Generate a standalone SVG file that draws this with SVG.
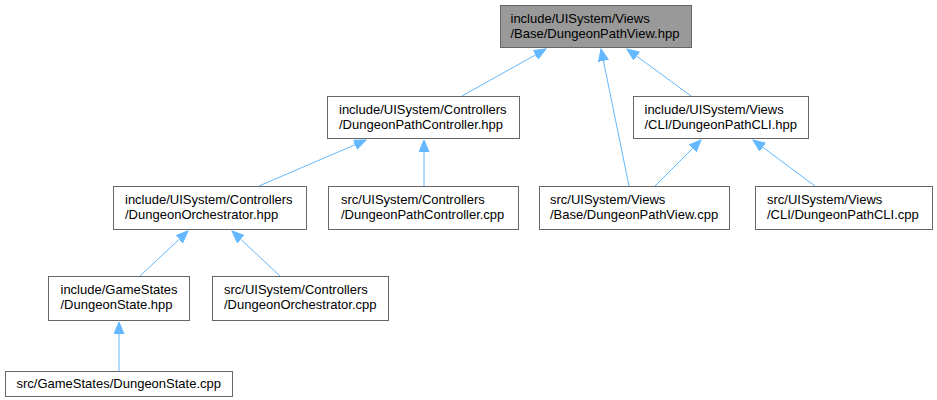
<svg xmlns="http://www.w3.org/2000/svg" width="937" height="400" viewBox="0 0 937 400">
<style>
.n rect{fill:#ffffff;stroke:#666666;stroke-width:1}
.n.cur rect{fill:#999999}
.n text{font-family:"Liberation Sans",Arial,sans-serif;font-size:13px;fill:#000000}
.e line{stroke:#63b8ff;stroke-width:1;fill:none;marker-end:url(#arr)}
</style>
<defs>
<marker id="arr" markerUnits="userSpaceOnUse" markerWidth="14" markerHeight="12" refX="12" refY="5" orient="auto">
<path d="M0,0 L12,5 L0,10 z" fill="#63b8ff" stroke="#63b8ff" stroke-width="1"/>
</marker>
</defs>
<rect width="937" height="400" fill="#ffffff"/>
<g id="edges" class="e">
<line x1="462" y1="96" x2="546" y2="49"/>
<line x1="629" y1="186" x2="601" y2="49"/>
<line x1="691" y1="96" x2="627" y2="49"/>
<line x1="259" y1="186" x2="366" y2="140"/>
<line x1="424" y1="186" x2="424" y2="140"/>
<line x1="655" y1="186" x2="701" y2="140"/>
<line x1="815" y1="186" x2="753" y2="140"/>
<line x1="140" y1="276" x2="188" y2="231"/>
<line x1="280" y1="276" x2="232" y2="231"/>
<line x1="119" y1="371" x2="119" y2="322"/>
</g>
<g id="node1" class="n cur"><rect x="500.5" y="5.5" width="191" height="42"/><text x="510.5" y="23">include/UISystem/Views</text><text x="510.5" y="38">/Base/DungeonPathView.hpp</text></g>
<g id="node2" class="n"><rect x="327.5" y="96.5" width="192" height="42"/><text x="339" y="114">include/UISystem/Controllers</text><text x="339" y="129">/DungeonPathController.hpp</text></g>
<g id="node3" class="n"><rect x="633.5" y="96.5" width="175" height="42"/><text x="644.5" y="114">include/UISystem/Views</text><text x="644.5" y="129">/CLI/DungeonPathCLI.hpp</text></g>
<g id="node4" class="n"><rect x="113.5" y="186.5" width="193" height="43"/><text x="125" y="204">include/UISystem/Controllers</text><text x="125" y="219">/DungeonOrchestrator.hpp</text></g>
<g id="node5" class="n"><rect x="328.5" y="186.5" width="190" height="43"/><text x="341" y="204">src/UISystem/Controllers</text><text x="341" y="219">/DungeonPathController.cpp</text></g>
<g id="node6" class="n"><rect x="539.5" y="186.5" width="190" height="43"/><text x="550" y="204">src/UISystem/Views</text><text x="550" y="219">/Base/DungeonPathView.cpp</text></g>
<g id="node7" class="n"><rect x="755.5" y="186.5" width="177" height="43"/><text x="767" y="204">src/UISystem/Views</text><text x="767" y="219">/CLI/DungeonPathCLI.cpp</text></g>
<g id="node8" class="n"><rect x="48.5" y="276.5" width="141" height="44"/><text x="60.5" y="294">include/GameStates</text><text x="60.5" y="309">/DungeonState.hpp</text></g>
<g id="node9" class="n"><rect x="212.5" y="276.5" width="176" height="44"/><text x="224" y="294">src/UISystem/Controllers</text><text x="224" y="309">/DungeonOrchestrator.cpp</text></g>
<g id="node10" class="n"><rect x="5.5" y="371.5" width="227" height="25"/><text x="16.5" y="388">src/GameStates/DungeonState.cpp</text></g>
</svg>
